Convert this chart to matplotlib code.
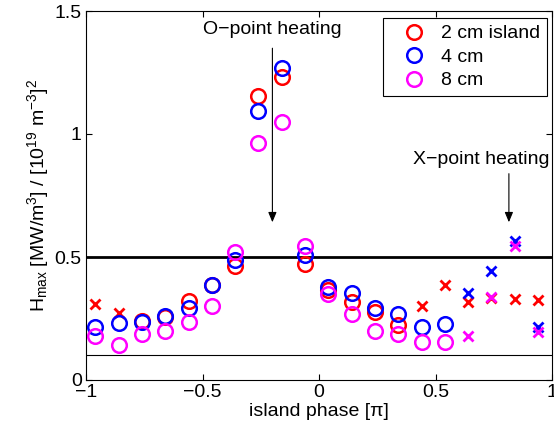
import matplotlib
matplotlib.use("Agg")
import matplotlib.pyplot as plt
from matplotlib.lines import Line2D
import numpy as np

plt.rcParams['font.family'] = ['Liberation Sans', 'DejaVu Sans']
plt.rcParams['mathtext.fontset'] = 'custom'
plt.rcParams['mathtext.rm'] = 'Liberation Sans'
plt.rcParams['mathtext.it'] = 'Liberation Sans:italic'
plt.rcParams['mathtext.default'] = 'regular'

phase = [-0.96, -0.86, -0.76, -0.66, -0.56, -0.46, -0.36, -0.26, -0.16, -0.06,
         0.04, 0.14, 0.24, 0.34, 0.44, 0.54, 0.64, 0.74, 0.84, 0.94]

h_2cm = [0.309, 0.274, 0.238, 0.255, 0.322, 0.388, 0.465, 1.154, 1.232, 0.473,
         0.365, 0.319, 0.276, 0.225, 0.302, 0.386, 0.319, 0.335, 0.329, 0.326]
h_4cm = [0.215, 0.231, 0.235, 0.262, 0.291, 0.386, 0.489, 1.093, 1.267, 0.510,
         0.378, 0.353, 0.292, 0.268, 0.216, 0.227, 0.353, 0.444, 0.567, 0.215]
h_8cm = [0.177, 0.143, 0.186, 0.198, 0.234, 0.302, 0.522, 0.965, 1.050, 0.546,
         0.351, 0.270, 0.201, 0.189, 0.155, 0.155, 0.177, 0.336, 0.544, 0.196]

# marker type per point: 'o' circle, 'x' cross
m_2cm = ['x', 'x'] + ['o'] * 12 + ['x'] * 6
m_4cm = ['o'] * 16 + ['x'] * 4
m_8cm = ['o'] * 16 + ['x'] * 4

series = [("2 cm island", h_2cm, m_2cm, "#ff0000"),
          ("4 cm", h_4cm, m_4cm, "#0000ff"),
          ("8 cm", h_8cm, m_8cm, "#ff00ff")]

FS = 14

fig = plt.figure(figsize=(5.54, 4.29), dpi=100)
ax = fig.add_axes([86 / 554, 49 / 429, 466 / 554, 369 / 429])

ax.axhline(0.5, color='black', lw=2.0, zorder=1)
ax.axhline(0.1, color='black', lw=0.8, zorder=1)

for label, vals, marks, col in series:
    x = np.array(phase)
    y = np.array(vals)
    mk = np.array(marks)
    o = mk == 'o'
    ax.plot(x[o], y[o], ls='none', marker='o', ms=10.5, mfc='none', mec=col, mew=1.8, zorder=3)
    ax.plot(x[~o], y[~o], ls='none', marker='x', ms=7, mec=col, mew=2.0, zorder=3)

ax.set_xlim(-1, 1)
ax.set_ylim(0, 1.5)
ax.set_xticks([-1, -0.5, 0, 0.5, 1])
ax.set_xticklabels(['\u22121', '\u22120.5', '0', '0.5', '1'])
ax.set_yticks([0, 0.5, 1, 1.5])
ax.set_yticklabels(['0', '0.5', '1', '1.5'])
ax.tick_params(direction='in', top=True, right=True, labelsize=FS, length=4, width=0.8, pad=3)
for s in ax.spines.values():
    s.set_linewidth(0.8)

ax.set_xlabel('island phase [\u03c0]', fontsize=FS, labelpad=1)
ax.set_ylabel(r'H$_{\rm max}$ [MW/m$^3$] / [10$^{19}$ m$^{-3}$]$^2$', fontsize=FS, labelpad=3)

ax.annotate('', xy=(-0.2, 0.63), xytext=(-0.2, 1.36),
            arrowprops=dict(arrowstyle='-|>,head_length=0.6,head_width=0.25', color='black', lw=0.8))
ax.text(-0.2, 1.423, 'O\u2212point heating', fontsize=FS, ha='center', va='center')
ax.annotate('', xy=(0.815, 0.63), xytext=(0.815, 0.85),
            arrowprops=dict(arrowstyle='-|>,head_length=0.6,head_width=0.25', color='black', lw=0.8))
ax.text(0.697, 0.897, 'X\u2212point heating', fontsize=FS, ha='center', va='center')

handles = [Line2D([], [], ls='none', marker='o', ms=10.5, mfc='none', mec=c, mew=1.8)
           for _, _, _, c in series]
leg = ax.legend(handles, [s[0] for s in series], loc='upper right',
                bbox_to_anchor=(0.9886, 0.981), borderaxespad=0, fontsize=FS,
                fancybox=False, edgecolor='black', framealpha=1,
                borderpad=0.35, handlelength=2.45, handletextpad=0.15, labelspacing=0.3)
leg.get_frame().set_linewidth(0.8)

fig.savefig('out.png', dpi=100)
